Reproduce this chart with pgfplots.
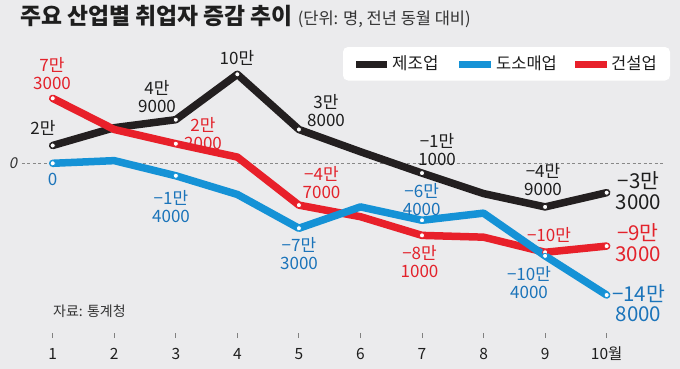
\documentclass[border=0pt]{standalone}
\usepackage{fontspec}
\setmainfont{Noto Sans CJK KR}
\newfontfamily\slantfont{Noto Sans CJK KR}[FakeSlant=0.2]
\usepackage{pgfplots}
\pgfplotsset{compat=1.18}
\usepackage{pgfplotstable}
\usepgfplotslibrary{fillbetween}

\definecolor{bg}{HTML}{EBEBED}
\definecolor{mfgc}{HTML}{231F20}
\definecolor{wsc}{HTML}{1592D6}
\definecolor{conc}{HTML}{E8202A}
\definecolor{mfgt}{HTML}{1E1E1E}
\definecolor{wst}{HTML}{1B74BA}
\definecolor{cont}{HTML}{E3222B}
\definecolor{tickgray}{HTML}{808080}
\definecolor{dashgray}{HTML}{888888}
\definecolor{subgray}{HTML}{333333}

% month, 제조업, 도소매업, 건설업 (persons, y/y change)
\pgfplotstableread{
month mfg ws con
1  20000      0   73000
2  40000   3000   38000
3  49000 -14000   22000
4 100000 -35000    7000
5  38000 -73000  -47000
6  13000 -49000  -60000
7 -11000 -64000  -81000
8 -34000 -56000  -83000
9 -49000 -104000 -100000
10 -33000 -148000 -93000
}\jobdata

\newcommand\dl[5]{\node[text=#3, align=center, inner sep=0pt,
  font=\fontsize{17bp}{18bp}\selectfont] at (#1bp,-#2bp) {#4\\#5};}
\newcommand\dlo[4]{\node[text=#3, inner sep=0pt,
  font=\fontsize{17bp}{18bp}\selectfont] at (#1bp,-#2bp) {#4};}
\newcommand\dle[5]{\node[text=#3, align=center, inner sep=0pt,
  font=\fontsize{20.5bp}{20.5bp}\selectfont] at (#1bp,-#2bp) {#4\\#5};}

\begin{document}
\begin{tikzpicture}
\fill[bg] (0bp,0bp) rectangle (680bp,-369bp);
\begin{axis}[
  at={(0bp,-338bp)}, anchor=south west,
  scale only axis, width=680bp, height=338bp,
  xmin=0.14378, xmax=11.1917, ymin=-196292, ymax=183483,
  axis x line*=bottom, axis y line=none,
  x axis line style={draw=none},
  xtick={1,2,3,4,5,6,7,8,9,10},
  xticklabels={1,2,3,4,5,6,7,8,9,10월},
  ytick=\empty,
  tick align=inside,
  major tick length=0pt,
  xticklabel style={anchor=base, yshift=-21bp, text=mfgt,
    font=\fontsize{15.5bp}{16bp}\selectfont},
  clip=false,
]
\addplot[draw=none, name path=A, forget plot] table[x=month,y=mfg]{\jobdata};
\addplot[draw=none, name path=B, forget plot] table[x=month,y=ws]{\jobdata};
\addplot[draw=none, name path=C, forget plot] table[x=month,y=con]{\jobdata};
\addplot[fill=white, draw=none, forget plot] fill between[of=A and B];
\addplot[fill=white, draw=none, forget plot] fill between[of=A and C];
\addplot[fill=white, draw=none, forget plot] fill between[of=B and C];
\addplot[dashgray, line width=0.7bp, dash pattern=on 3bp off 2.5bp, forget plot]
  coordinates {(0.5012,0) (10.948,0)};
\pgfplotsinvokeforeach{1,...,10}{
  \draw[tickgray, line width=0.9bp] (axis cs:#1,-196292) -- ++(0bp,5.5bp);
}
\addplot[mfgc, line width=7.5bp, line join=round, line cap=round,
  mark=*, mark indices={1,3,4,5,7,9,10}, mark size=2.6bp,
  mark options={fill=white, draw=mfgc, line width=0.8bp, solid}]
  table[x=month,y=mfg]{\jobdata};
\addplot[conc, line width=7.5bp, line join=round, line cap=round,
  mark=*, mark indices={1,3,5,7,9,10}, mark size=2.6bp,
  mark options={fill=white, draw=conc, line width=0.8bp, solid}]
  table[x=month,y=con]{\jobdata};
\addplot[wsc, line width=7.5bp, line join=round, line cap=round,
  mark=*, mark indices={1,3,5,7,9,10}, mark size=2.6bp,
  mark options={fill=white, draw=wsc, line width=0.8bp, solid}]
  table[x=month,y=ws]{\jobdata};
\end{axis}

% title
\node[anchor=base west, inner sep=0pt, text=mfgt] at (20bp,-24bp)
  {\fontsize{22.8bp}{25bp}\selectfont\bfseries 주요 산업별 취업자 증감 추이\hspace{5bp}{\mdseries\fontsize{16.5bp}{18bp}\selectfont\color{subgray}(단위: 명, 전년 동월 대비)}};

% legend
\fill[white, rounded corners=5bp] (343bp,-47bp) rectangle (670bp,-80.5bp);
\draw[mfgc, line width=7bp] (356bp,-64bp) -- (387bp,-64bp);
\node[anchor=west, inner sep=0pt, text=mfgt, font=\fontsize{16.8bp}{18bp}\selectfont] at (392bp,-63.5bp) {제조업};
\draw[wsc, line width=7bp] (459bp,-64bp) -- (491bp,-64bp);
\node[anchor=west, inner sep=0pt, text=mfgt, font=\fontsize{16.5bp}{18bp}\selectfont] at (496bp,-63.5bp) {도소매업};
\draw[conc, line width=7bp] (575bp,-64bp) -- (607bp,-64bp);
\node[anchor=west, inner sep=0pt, text=mfgt, font=\fontsize{16.5bp}{18bp}\selectfont] at (611bp,-63.5bp) {건설업};

% zero label and source
\node[inner sep=0pt, text=subgray, font=\fontsize{15bp}{16bp}\slantfont] at (13bp,-163bp) {0};
\node[anchor=west, inner sep=0pt, text=subgray, font=\fontsize{14bp}{16bp}\selectfont] at (53bp,-311.5bp) {자료: 통계청};

% data labels
\dlo{43}{128}{mfgt}{2만}
\dl{52}{74}{cont}{7만}{3000}
\dlo{52.7}{179}{wst}{0}
\dl{157}{96.5}{mfgt}{4만}{9000}
\dl{203}{133.5}{cont}{2만}{2000}
\dlo{237}{58}{mfgt}{10만}
\dl{171}{206.5}{wst}{−1만}{4000}
\dl{326}{110.5}{mfgt}{3만}{8000}
\dl{321.5}{182.5}{cont}{−4만}{7000}
\dl{299}{254}{wst}{−7만}{3000}
\dl{437}{149.5}{mfgt}{−1만}{1000}
\dl{421.7}{200}{wst}{−6만}{4000}
\dl{419.5}{261.5}{cont}{−8만}{1000}
\dl{543}{179.5}{mfgt}{−4만}{9000}
\dlo{549}{235}{cont}{−10만}
\dl{529}{283}{wst}{−10만}{4000}
\dle{638.5}{190.5}{mfgt}{−3만}{3000}
\dle{638}{242.5}{cont}{−9만}{3000}
\dle{638.5}{303}{wst}{−14만}{8000}

\pgfresetboundingbox
\useasboundingbox (0bp,0bp) rectangle (680bp,-369bp);
\end{tikzpicture}
\end{document}
